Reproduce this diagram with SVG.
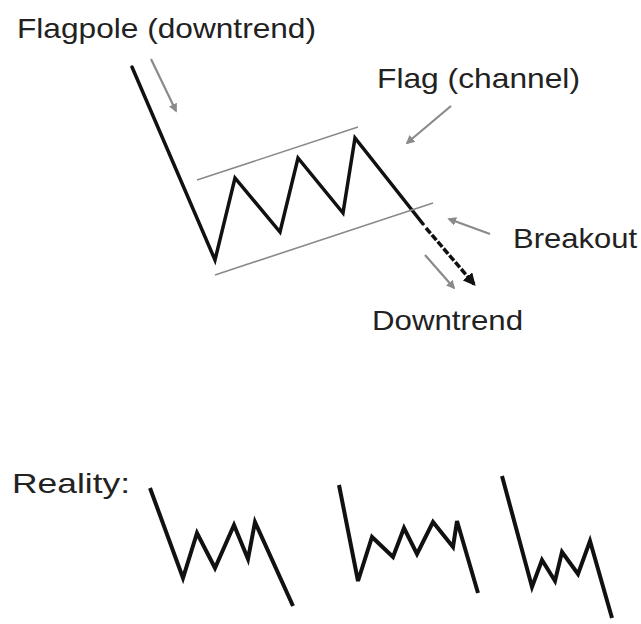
<svg xmlns="http://www.w3.org/2000/svg" width="641" height="624" viewBox="0 0 641 624">
<style>
  .lbl { font-family: "Liberation Sans", Arial, sans-serif; font-size: 28px; fill: #222; }
  .price { fill: none; stroke: #111; stroke-width: 3.5; stroke-linejoin: miter; stroke-linecap: round; }
  .chan { stroke: #8a8a8a; stroke-width: 1.6; fill: none; }
  .pointer { stroke: #8a8a8a; stroke-width: 2.2; fill: none; marker-end: url(#grayhead); }
  .real { fill: none; stroke: #111; stroke-width: 4; stroke-linejoin: miter; stroke-linecap: butt; }
</style>
<defs>
  <marker id="grayhead" viewBox="0 0 10 10" refX="8" refY="5" markerWidth="4" markerHeight="4" orient="auto" markerUnits="strokeWidth">
    <path d="M0,0 L10,5 L0,10 z" fill="#8a8a8a"/>
  </marker>
  <marker id="blackhead" viewBox="0 0 10 10" refX="8" refY="5" markerWidth="3.6" markerHeight="3.6" orient="auto" markerUnits="strokeWidth">
    <path d="M0,0 L10,5 L0,10 z" fill="#111"/>
  </marker>
</defs>
<rect width="641" height="624" fill="#fff"/>

<g id="flag-pattern">
  <polyline class="price" points="132,67 215,260 235,178 280,232 298,158 343,213 355,138 423,224"/>
  <line x1="426" y1="228" x2="474" y2="284" stroke="#111" stroke-width="3.5" stroke-dasharray="7 2" marker-end="url(#blackhead)"/>
</g>

<g id="channel">
  <line class="chan" x1="197" y1="180" x2="358" y2="127"/>
  <line class="chan" x1="215" y1="275" x2="433" y2="203"/>
</g>

<g id="connectors">
  <line class="pointer" x1="151" y1="59" x2="176" y2="111"/>
  <line class="pointer" x1="451" y1="106" x2="407" y2="143"/>
  <line class="pointer" x1="490" y1="234" x2="449" y2="219"/>
  <line class="pointer" x1="425" y1="255" x2="454" y2="288"/>
</g>

<g id="label-flagpole"><text class="lbl" x="17" y="38" textLength="299" lengthAdjust="spacingAndGlyphs">Flagpole (downtrend)</text></g>
<g id="label-flag"><text class="lbl" x="377" y="88" textLength="203" lengthAdjust="spacingAndGlyphs">Flag (channel)</text></g>
<g id="label-breakout"><text class="lbl" x="513" y="248" textLength="124" lengthAdjust="spacingAndGlyphs">Breakout</text></g>
<g id="label-downtrend"><text class="lbl" x="372" y="330" textLength="151" lengthAdjust="spacingAndGlyphs">Downtrend</text></g>

<g id="reality">
  <text class="lbl" x="12" y="493" textLength="118" lengthAdjust="spacingAndGlyphs">Reality:</text>
  <polyline class="real" points="150,488 183,578 197,533 215,568 234,525 248,559 255,522 293,606"/>
  <polyline class="real" points="339,485 358,581 372,537 393,557 404,528 417,554 433,522 453,547 457,521 478,593"/>
  <polyline class="real" points="502,476 532,587 542,560 555,581 562,552 578,574 590,541 612,618"/>
</g>
</svg>
